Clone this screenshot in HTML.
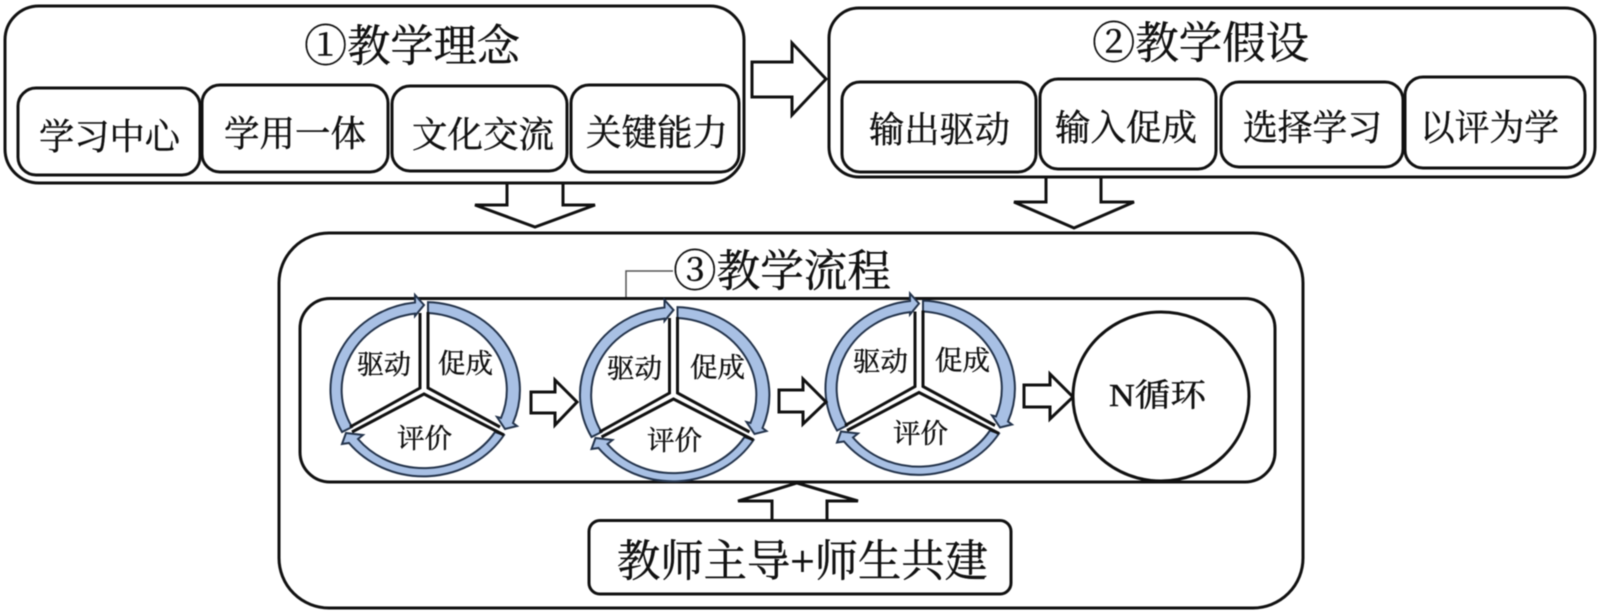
<!DOCTYPE html>
<html><head><meta charset="utf-8"><style>
html,body{margin:0;padding:0;background:#fff;width:1600px;height:613px;overflow:hidden}
svg{display:block;filter:blur(0.4px)}
text{font-family:"Liberation Serif","Noto Serif CJK SC",serif;fill:#111;stroke:#111;stroke-width:.45}
.b{fill:#fff;stroke:#111;stroke-width:3}
.t{font-size:44px}.m{font-size:36px}.s{font-size:27px}
.r{fill:#a8c0e4;stroke:#24344c;stroke-width:2;stroke-linejoin:miter}
.l{fill:none;stroke:#111;stroke-width:3;stroke-linejoin:miter}
</style></head><body>
<svg width="1600" height="613" viewBox="0 0 1600 613" xmlns="http://www.w3.org/2000/svg">
<defs>
<g id="ring">
<path class="r" d="M-84 42A95 88 0 0 1 -11 -87.5L-11 -95L-2 -85L-11 -74L-11 -76.4A84 77 0 0 0 -74 37Z"/>
<path class="r" d="M2 -87.9A95 88 0 0 1 87 33L91 36L79 39L71 27L75 28A84 77 0 0 0 2 -77Z"/>
<path class="r" d="M78 45A95 88 0 0 1 -77 53L-84 54L-80 43L-63 45L-68 49A84 77 0 0 0 69 42Z"/>
<path class="l" d="M-6 -77V-2L-76 37"/>
<path class="l" d="M2 -78V-2L74 37"/>
<path class="l" d="M-74 42L-2 4L78 45"/>
</g>
</defs>

<rect class="b" x="5" y="6" width="739" height="177" rx="34"/>
<rect class="b" x="18" y="88" width="182" height="87" rx="18"/>
<rect class="b" x="202" y="85" width="186" height="87" rx="18"/>
<rect class="b" x="392" y="86" width="175" height="85" rx="18"/>
<rect class="b" x="571" y="85" width="168" height="87" rx="18"/>
<text class="t" x="304" y="61" textLength="216" lengthAdjust="spacingAndGlyphs">①教学理念</text>
<text class="m" x="39" y="149" textLength="141" lengthAdjust="spacingAndGlyphs">学习中心</text>
<text class="m" x="224" y="146" textLength="142" lengthAdjust="spacingAndGlyphs">学用一体</text>
<text class="m" x="412" y="147" textLength="142" lengthAdjust="spacingAndGlyphs">文化交流</text>
<text class="m" x="586" y="145" textLength="142" lengthAdjust="spacingAndGlyphs">关键能力</text>

<path class="l" d="M752 62H792V43L826 79L792 115V97H752Z"/>

<rect class="b" x="829" y="8" width="766" height="169" rx="30"/>
<rect class="b" x="842" y="82" width="194" height="90" rx="18"/>
<rect class="b" x="1040" y="79" width="176" height="90" rx="18"/>
<rect class="b" x="1221" y="82" width="182" height="85" rx="18"/>
<rect class="b" x="1405" y="77" width="180" height="91" rx="18"/>
<text class="t" x="1092" y="58" textLength="217" lengthAdjust="spacingAndGlyphs">②教学假设</text>
<text class="m" x="869" y="142" textLength="141" lengthAdjust="spacingAndGlyphs">输出驱动</text>
<text class="m" x="1055" y="140" textLength="142" lengthAdjust="spacingAndGlyphs">输入促成</text>
<text class="m" x="1243" y="140" textLength="139" lengthAdjust="spacingAndGlyphs">选择学习</text>
<text class="m" x="1420" y="140" textLength="139" lengthAdjust="spacingAndGlyphs">以评为学</text>

<path class="l" d="M507 184V205H475L535 227L595 205H563V184"/>
<path class="l" d="M1046 178V202H1014L1074 228L1134 202H1101V178"/>

<rect class="b" x="279" y="233" width="1024" height="375" rx="50"/>
<rect class="b" x="300" y="298.500" width="975" height="183.500" rx="30"/>
<path d="M673 271H626V297" fill="none" stroke="#555" stroke-width="1.5"/>
<text class="t" x="673" y="286" textLength="218" lengthAdjust="spacingAndGlyphs">③教学流程</text>

<use href="#ring" transform="translate(426 390)"/>
<use href="#ring" transform="translate(675.500 395)"/>
<use href="#ring" transform="translate(921 388.500)"/>

<text class="s" x="357" y="374" textLength="54" lengthAdjust="spacingAndGlyphs">驱动</text>
<text class="s" x="438" y="373" textLength="55" lengthAdjust="spacingAndGlyphs">促成</text>
<text class="s" x="397" y="448" textLength="55" lengthAdjust="spacingAndGlyphs">评价</text>
<text class="s" x="607" y="378" textLength="55" lengthAdjust="spacingAndGlyphs">驱动</text>
<text class="s" x="690" y="377" textLength="55" lengthAdjust="spacingAndGlyphs">促成</text>
<text class="s" x="647" y="450" textLength="55" lengthAdjust="spacingAndGlyphs">评价</text>
<text class="s" x="853" y="371" textLength="55" lengthAdjust="spacingAndGlyphs">驱动</text>
<text class="s" x="935" y="370" textLength="55" lengthAdjust="spacingAndGlyphs">促成</text>
<text class="s" x="893" y="443" textLength="55" lengthAdjust="spacingAndGlyphs">评价</text>

<path class="l" d="M531 392H555V380L577 402L555 425V413H531Z"/>
<path class="l" d="M779 390H803V379L826 402L803 424V412H779Z"/>
<path class="l" d="M1024 385H1050V374L1073 397L1050 419V407H1024Z"/>

<ellipse class="b" cx="1161" cy="396.500" rx="88" ry="84.500"/>
<text x="1109" y="406" font-size="32" textLength="97" lengthAdjust="spacingAndGlyphs">N循环</text>

<path class="l" d="M772 520V501H738L797 483L858 501H827V520"/>
<rect class="b" x="589" y="520.500" width="422" height="73.500" rx="11"/>
<text x="617" y="576" font-size="44" textLength="371" lengthAdjust="spacingAndGlyphs">教师主导+师生共建</text>
</svg>
</body></html>
